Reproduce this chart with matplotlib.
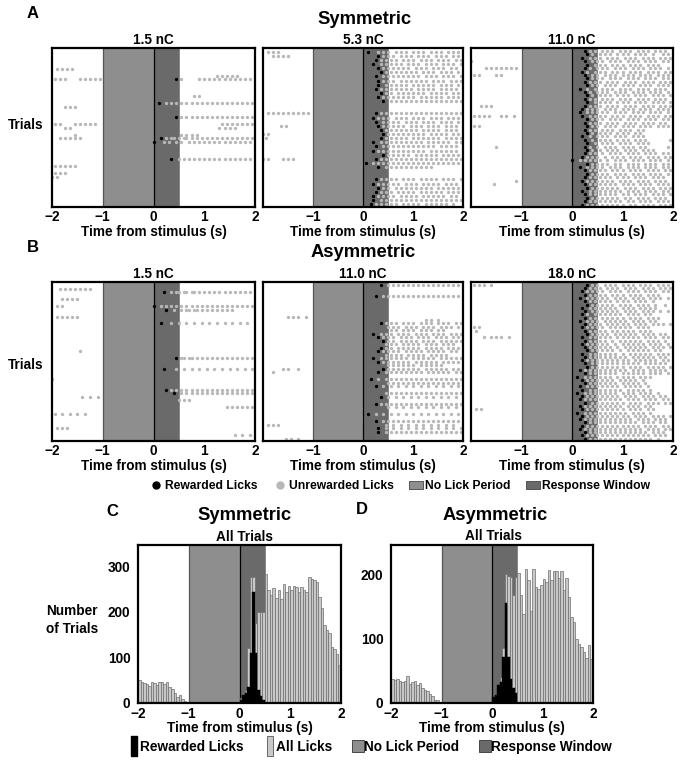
import numpy as np
import matplotlib
matplotlib.use("Agg")
import matplotlib.pyplot as plt
from matplotlib.lines import Line2D

plt.rcParams['font.family'] = ['Liberation Sans', 'DejaVu Sans']
plt.rcParams['font.weight'] = 'bold'
plt.rcParams['axes.titleweight'] = 'bold'
plt.rcParams['axes.labelweight'] = 'bold'

# lick rasters: one string per trial, lick times in 0.05 s steps from stimulus,
# "*" marks the rewarded lick
BIN = 0.05

sym_15 = [
    "", "", "", "", "",
    "-38 -36 -34 -32",
    "",
    "25 27 29 31 33",
    "-39 -37 -35 -29 -27 -25 -23 -21 9* 11 18 20 22 24 26 28 30 32 34 36 38",
    "", "", "", "",
    "16 18",
    "",
    "2* 5 7 9 11 13 15 17 19 21 23 25 27 29 31 33 35 37 39",
    "-35 -33 -31",
    "", "",
    "9* 11 13 15 17 19 21 23 25 27 29 31 33 35 37 39",
    "",
    "-39 -37 -31 -29 -27 -25 -23 27 29 31 33 35 37 39",
    "-35 -33 26 28 30 32",
    "",
    "-31 11 13 15 17",
    "-37 -35 -33 -31 -29 3* 5 7 8 10 12 13 15 17 19 21 23 25 27 29 31 33 35 37 39",
    "0* 4 6 9 11 14 16 18 20 22 24 26 28 30 32 34 36 38",
    "", "", "", "",
    "7* 10 12 14 16 18 20 22 24 26 28 30 32 34 36 38",
    "",
    "-39 -37 -35 -33 -31",
    "",
    "-39 -37 -35",
    "-40 -38",
    "", "", "", "", "", "", "", "",
]

sym_53 = [
    "-38 -36 -34 2* 6 8 10 13 15 17 20 22 24 27 29 31 34 36 38",
    "-36 -34 -32 -30 6* 8 10 12 15 17 19 22 24 26 29 31 33 36 38",
    "5* 7 9 11 13 16 18 20 23 25 27 30 32 34 37 39",
    "4* 7 9 11 13 15 18 20 22 25 27 29 32 34 36 39",
    "6* 8 10 12 14 16 18 21 23 25 28 30 32 35 37",
    "7* 9 11 13 15 17 19 21 24 26 28 31 33 35 38",
    "5* 8 10 12 14 16 18 20 22 25 27 29 32 34 36 39",
    "6* 8 10 12 15 17 19 21 23 25 28 30 32 35 37 39",
    "6* 9 11 13 15 17 20 22 24 26 28 31 33 35 38",
    "5* 7 9 11 13 15 17 19 22 24 26 28 31 33 35 37",
    "7* 9 11 14 16 18 20 22 24 27 29 31 33 36 38",
    "6* 8 10 12 14 16 18 20 23 25 27 29 31 34 36 38",
    "8* 11 13 15 17 19 21 23 25 27 29 31 33 35 37 39",
    "",
    "",
    "-38 -36 -34 -32 -30 -28 -26 -24 -22 5* 7 9 11 13 15 17 19 21 23 25 27 29 31 33 35 37 39",
    "4* 6 8 10 13 15 17 20 22 24 27 29 31 34 36 38",
    "5* 8 10 12 14 17 19 21 24 26 28 31 33 35 38",
    "-33 -31 6* 8 10 12 14 16 19 21 23 26 28 30 33 35 37",
    "7* 9 11 13 15 17 19 21 24 26 28 30 33 35 37",
    "-40 -38 8* 10 12 14 16 18 20 22 24 27 29 31 33 36 38",
    "-39 7* 9 11 13 15 17 20 22 24 26 28 30 33 35 37 39",
    "4* 7 9 11 13 15 17 19 21 23 26 28 30 32 34 37 39",
    "5* 8 10 12 14 16 18 20 22 24 26 28 31 33 35 37",
    "4* 6 8 10 12 14 16 18 20 22 24 27 29 31 33 35 37",
    "8* 10 12 14 16 18 21 23 25 27 29 32 34 36 38",
    "-40 -38 -32 -30 -28 5* 7 9 11 13 15 17 19 21 23 25 27 29 31 33 35 37 39",
    "1* 4 6 8 10 12 14 16 18 20 22 24 26 28 30 32 34 36 38",
    "6* 9 11 13 15 17 19 21 23 25 27",
    "",
    "",
    "5* 7 9 11 13 16 18 20 23 25 27 29 32 34 36 39",
    "4* 6 8 10 12 14 17 19 21 24 26 28 30 33 35 37",
    "6* 8 10 13 15 17 19 21 23 25 27 30 32 34 36 38",
    "5* 7 9 11 14 16 18 20 23 25 27 29 31 34 36 38",
    "4* 6 8 10 12 15 17 19 21 24 26 28 30 32 35 37",
    "4* 7 9 11 13 15 17 19 21 23 25 27 29 31 33 35 37 39",
    "3* 5 7 9 11 13 16 18 20 22 25 27 29 31 33 36",
]

sym_110 = [
    "5* 7 9 12 14 16 19 21 23 26 28 30 33 35 37",
    "6* 8 11 13 15 18 20 22 25 27 29 32 36 38",
    "4* 7 9 11 14 16 18 21 23 25 28 30 32 35 37 39",
    "-40 5* 8 10 12 15 17 19 22 24 26 29 31 33 36 38",
    "6* 9 11 13 16 18 20 23 25 27 30 32 34",
    "-34 -32 -30 -28 -26 -24 -22 5* 7 10 12 14 17 19 21 24 26 28 31 33 35 38",
    "4* 6 9 11 13 16 18 20 23 25 27 30 32 34 37 39",
    "-39 -37 -30 -28 5* 8 10 13 15 17 20 22 24 27 29 31 34 36 38",
    "6* 8 10 12 15 17 19 22 24 26 29 31 33 36 38",
    "5* 7 9 11 14 16 18 21 23 25 28 30 32 35 37 39",
    "6* 8 10 13 15 17 20 22 24 27 29 31 34 36 38",
    "3* 6 9 12 14 16 19 21 23 26 28 30 33 35 37",
    "5* 7 10 12 14 17 19 21 24 26 28 31 33 35 38",
    "6* 8 11 13 15 18 20 22 25 27 29 32 34 36 39",
    "5* 7 9 12 14 16 19 21 23 26 28 30 33 35 37",
    "6* 9 11 13 15 18 20 22 25 27 29 32 34 36 39",
    "-36 -34 -32 5* 7 9 11 14 16 18 21 23 25 28 30 32 35 37 39",
    "4* 6 8 10 13 15 17 20 22 24 27 29 31 34 36 38",
    "3* 6 8 10 12 14 17 19 21 24 26 28 31 33 35 38",
    "-39 -37 -35 -33 -28 -26 -23 4* 7 9 11 13 16 18 20 23 25 27 30 32 34 37 39",
    "6* 8 10 12 15 17 19 22 24 26 29 31 33 36 38",
    "5* 7 9 11 14 16 18 21 23 25 28 30 32 35 37",
    "-39 -37 6* 8 10 13 15 17 20 22 24 27 29 31 34 36 38",
    "5* 7 9 12 14 16 19 21 23 26 28",
    "6* 8 11 13 15 18 20 22 25 27",
    "4* 7 10 12 14 17 19 21 24 26 28",
    "5* 8 11 13 15 18 20 22 25 27 29 39",
    "6* 9 12 14 16 19 21 23 26 28 30",
    "-30 5* 7 10 13 15 17 20 22 24 27 29 38",
    "6* 8 11 14 16 18 21 23 25 28 30 32",
    "5* 7 9 12 15 17 19 22 24 26 29 31 33 36 38",
    "4* 6 8 10 13 16 18 20 23 25 27 30 32 34 37 39",
    "0* 3 5 7 9 11 14 17 19 21 24 26 28 31 33 35 38",
    "6* 8 10 12 14 17 19 22 24 26 29 31 33 36 38",
    "3* 6 8 10 12 15 17 19 22 24 26 29 31 33 36 38",
    "5* 7 9 11 13 16 18 20 23 25 27 30 32 34 37 39",
    "6* 8 10 12 14 17 19 21 24 26 28 31 33 35 38",
    "5* 7 9 11 13 15 18 20 22 25 27 29 32 34 36",
    "-22 4* 6 8 10 12 14 16 19 21 23 26 28 30 33 35 37",
    "-31 5* 7 9 11 13 15 17 20 22 24 27 29 31 34 36 38",
    "6* 8 10 12 14 16 18 21 23 25 28 30 32 35 37 39",
    "4* 7 9 11 13 15 17 19 22 24 26 29 31 33 36 38",
    "5* 7 9 11 13 15 17 20 22 25 27 29 32 34 36 39",
    "6* 8 10 12 14 16 18 21 23 26 28 30 33 35 37",
    "5* 7 9 11 13 15 17 19 22 24 27 29 31 34 36 38",
    "4* 6 8 10 12 14 16 18 20 23 25 28 30 32 35 37 39",
]

asym_15 = [
    "",
    "-37 -35 -33 -31 -29 -27 -25",
    "4* 7 9 10 12 13 15 16 18 20 22 24 26 28 30 32 34 36 38",
    "",
    "-36 -34 -32 -30",
    "",
    "-38 -36 0* 3 5 7 9 11 13 15 17 19 21 23 25 27 29 31 33 35 37 39",
    "5* 8 11 13 14 16 17 19 21 23 25 27 29 31",
    "",
    "-38 -36 -34 -32 -30",
    "",
    "3* 7 10 13 16 19 22 25 28 31 34 37",
    "", "", "", "", "", "", "",
    "-29",
    "",
    "9* 11 12 14 15 17 19 21 23 25 27 29 31 33 35 37 39",
    "", "",
    "4* 9 12 15 18 21 24 27 30 33 36 39",
    "", "",
    "-40",
    "", "",
    "5* 7 9 11 13 15 17 19 21 23 25 27 29 31 33 35 37 39",
    "8* 11 13 15 17 19 21 23 25 27 29 31 33 35 37 39",
    "-28 -25 -22",
    "10 12 14",
    "",
    "29 31 33 35 37 39",
    "",
    "-39 -36 -33 -30 -27",
    "", "", "",
    "-38 -36 -34",
    "",
    "32 35 38",
    "",
]

asym_110 = [
    "7* 10 12 14 16 18 20 22 24 26 28 30 32 34 36 38",
    "", "",
    "5* 8 10 12 14 16 18 20 22 24 26 28 30 32 34 36 38",
    "", "", "", "", "",
    "-30 -28 -26 -23",
    "25 27 30",
    "7* 9 11 13 16 18 20 23 25 27 30 32 34 37 39",
    "10 12 14 17 19 21 24 26 28 31 33 35 38",
    "11 13 16 18 20 23 25 27 30 32",
    "4* 7 9 11 14 16 18 21 23 25 28 30 32 35 37 39",
    "6* 8 10 12 15 17 19 22 24 26 29 31 33 36 38",
    "8* 10 12 15 17 19 21 24 26 28 31 33 35 37 39",
    "9 11 13 16 18 20 22 25 27 29 32 34 36",
    "7* 9 11 14 16 18 20 22 25 27 29 31 34 36 38",
    "6* 8 10 12 14 17 19 21 23 26 28 30 32 35 37",
    "9 11 13 15 18 20 22 24 27 29 31 33",
    "4* 7 9 11 13 15 17 20 22 24 26 28 31 33 35 37 39",
    "6* 8 10 12 14 16 18 21 23 25 27 29 32 34 36 38",
    "10 12 14 16 18 20 23 25 27 29 31",
    "-32 -30 -26 8* 10 12 14 16 18 20 22 25 27 29 31 33 36 38",
    "-36 6* 9 11 13 15 17 19 21 23 26 28 30 32 34 37 39",
    "",
    "3* 6 9 11 13 15 17 19 21 23 25 27 29 31 33 35 37 39",
    "10 12 14 16 18 20 22 24 26 28 30 32 34 36 38",
    "5* 8 11 14 17 20 23 26 29 32 35 38",
    "",
    "9 11 13 15 17 19 21 23 25 27 29 31 33 35 37 39",
    "7* 10 13 16 19 22 25 28 31 34 37",
    "",
    "5* 7 9 11 13 15 17 19 21 23 25 27 29 31 33 35 37 39",
    "10 13 16 19 22 25 28 31 34 37",
    "",
    "2* 5 8 11 14 17 20 23 26 29 32 35 38",
    "",
    "5* 8 10 12 14 16 18 20 22 24 26 28 30 32 34 36 38",
    "-38 -36 -34 9 12 15 18 21 24 27 30 33 36",
    "6* 9 12 15 18 21 24 27 30 33 36 39",
    "6* 9 11 13 15 17 19 21 23 25 27 29 31 33 35 37 39",
    "",
    "-31 -29 -26",
]

asym_180 = [
    "-39 -37 -35 -32 6* 8 10 13 15 17 20 22 24 27 29 31 34 36 38",
    "5* 7 9 11 14 16 18 21 23 25 28 30 32 35 37 39",
    "4* 6 8 10 12 15 17 19 22 24 26 29 31 33 36 38",
    "5* 7 9 11 13 16 18 20 23 25 27 30 32 34",
    "3* 6 8 10 12 14 17 19 21 24 26 28 31 33 35 38",
    "5* 7 9 11 13 15 18 20 22 25 27 29 32",
    "6* 8 10 12 14 16 19 21 23 26 28 30 33 37",
    "4* 7 9 11 13 15 17 20 22 24 27 29 31 33",
    "5* 8 10 12 14 16 18 21 23 25 28 30 32 35 38",
    "4* 6 9 11 13 15 17 19 22 24 26 29 31",
    "5* 7 9 12 14 16 18 20 23 25 27 30 32 34",
    "3* 6 8 10 13 15 17 19 21 24 26 28 31 33",
    "5* 7 9 11 14 16 18 20 22 25 27 29 32 34 36 39",
    "-39 -37 4* 6 8 10 12 15 17 19 21 23 26 28 30",
    "-38 5* 7 9 11 13 16 18 20 22 24 27 29 31",
    "6* 8 10 12 14 17 19 21 23 25 28 30 32 35 37",
    "-35 -32 -30 -28 -25 4* 7 9 11 13 15 18 20 22 24 26 29 31 33 36 38",
    "5* 7 9 11 13 16 19 21 23 25 27 30 32 34 37",
    "4* 6 8 10 12 14 17 20 22 24 26 28 31 33 35 38",
    "5* 7 9 11 13 15 18 21 23 25 27 29 32 34 36 39",
    "6* 8 10 12 14 16 19 22 24 26 28 30 33 35",
    "4* 7 9 11 13 15 17 20 23 25 27 29 31 34 36 38",
    "5* 7 9 11 13 15 17 19 21 24 26 28 30 32 35 37",
    "4* 6 8 10 12 14 16 18 20 22 25 27 29 31 33 36 38",
    "5* 8 10 12 14 16 18 20 22 24 26 29 31 33 35 37",
    "6* 8 10 12 14 16 18 20 23 25 27 30 32 34 36 39",
    "3* 5 7 9 11 13 15 17 19 21 24 26 28 31 33 35 37",
    "5* 7 9 11 13 15 17 20 22 24 26 28 31 33 35 38",
    "2* 5 7 9 11 13 15 18 20 22 24 27 29 31",
    "4* 6 8 10 12 14 16 19 21 23 25 28",
    "5* 7 9 11 13 15 17 20 22 24 26 29",
    "3* 6 8 10 12 14 16 18 21 23 25 27 30",
    "4* 7 9 11 13 15 17 19 22 24 26 28 31",
    "2* 5 7 9 11 13 15 17 20 22 24 27 29 31 34",
    "4* 6 8 10 12 14 16 18 21 23 25 28 30 32 35 37",
    "3* 5 7 9 11 13 15 17 19 22 24 26 29 31 33 36 38",
    "5* 8 10 12 14 16 18 20 23 25 27 30 32 34 37 39",
    "3* 5 7 9 11 13 15 17 19 22 24 26 29 31",
    "-38 -36 4* 6 8 10 12 14 16 18 20 23 25 27 30 32",
    "2* 5 7 9 11 13 15 17 19 21 24 26 28 31",
    "4* 6 8 10 12 14 16 18 20 22 25 27 29 32 34 36 39",
    "3* 5 7 9 11 13 15 17 19 21 23 26 28 30 33 35 37",
    "5* 7 9 11 13 15 17 19 21 23 25 28 30 32 35 37",
    "4* 6 8 10 12 14 16 18 20 22 24 26 29 31 33 36 38",
    "3* 5 7 9 11 13 15 17 19 21 23 25 27 30 32 34 37 39",
    "5* 7 9 11 13 15 17 19 21 23 25 27 29 32 34 36",
    "4* 6 8 10 12 14 16 18 20 22 24 26 28 30 33 35 37",
    "5* 7 9 11 13 15 17 19 21 23 25 27 29 31 34",
]

# histograms (0.05 s bins): -2..-1 s, 0..2 s (all licks), 0..0.5 s (rewarded)
sym_pre = [51, 46, 43, 41, 37, 45, 43, 39, 47, 47, 41, 46, 36, 30, 22, 14, 17, 8, 4, 0]
sym_post = [10, 20, 28, 120, 277, 277, 175, 200, 200, 200,
            282, 248, 237, 251, 229, 248, 227, 260, 242, 256,
            248, 256, 255, 244, 253, 248, 244, 277, 272, 270,
            266, 232, 209, 170, 160, 153, 122, 118, 108, 83]
sym_rew = [7, 18, 22, 36, 109, 244, 109, 29, 16, 7]

asym_pre = [37, 36, 38, 34, 32, 35, 42, 30, 33, 35, 28, 31, 24, 21, 19, 14, 11, 5, 4, 0]
asym_post = [10, 13, 28, 40, 85, 201, 197, 196, 168, 196,
             203, 168, 139, 208, 192, 144, 208, 181, 177, 183,
             193, 189, 207, 191, 206, 206, 195, 205, 176, 195,
             165, 134, 126, 100, 92, 87, 80, 70, 90, 68]
asym_rew = [10, 13, 28, 32, 72, 155, 72, 38, 23, 15]

NOLICK = '#8e8e8e'
WINDOW = '#6a6a6a'
DOT = '#b8b8b8'
LIGHT = '#c8c8c8'
EDGE = '#6e6e6e'
FS = 9.8

W, H = 683, 762
fig = plt.figure(figsize=(W / 100, H / 100), dpi=100)


def px_axes(x0, y0, x1, y1):
    return fig.add_axes([x0 / W, 1 - y1 / H, (x1 - x0) / W, (y1 - y0) / H])


def ftext(x, y, s, size, **kw):
    fig.text(x / W, 1 - y / H, s, ha='center', va='center', fontsize=size,
             fontweight='bold', **kw)


def shade(ax):
    ax.axvspan(-1, 0, facecolor=NOLICK, edgecolor='none', zorder=0)
    ax.axvspan(0, 0.5, facecolor=WINDOW, edgecolor='none', zorder=0)
    ax.axvline(-1, color='#555555', lw=0.9, zorder=1)
    ax.axvline(0, color='black', lw=0.9, zorder=1)
    ax.axvline(0.5, color='#555555', lw=0.5, zorder=1)


def style(ax, first, xpad=2, lpad=1):
    for s in ax.spines.values():
        s.set_linewidth(1.6)
    ax.set_xlim(-2, 2)
    ax.set_xticks([-2, -1, 0, 1, 2])
    labs = ['\u22122', '\u22121', '0', '1', '2']
    if not first:
        labs[0] = ''
    ax.set_xticklabels(labs)
    ax.tick_params(length=0, pad=2, labelsize=FS)
    ax.tick_params(axis='x', pad=xpad)
    ax.set_xlabel('Time from stimulus (s)', fontsize=FS, labelpad=lpad)


def raster(ax, rows, title, first):
    shade(ax)
    gx, gy, bx, by = [], [], [], []
    for i, row in enumerate(rows):
        for tok in row.split():
            t = int(tok.rstrip('*')) * BIN
            if tok.endswith('*'):
                bx.append(t)
                by.append(i)
            else:
                gx.append(t)
                gy.append(i)
    ax.plot(gx, gy, 'o', ms=2.4, mew=0, color=DOT, zorder=2)
    ax.plot(bx, by, 'o', ms=2.4, mew=0, color='black', zorder=3)
    ax.set_ylim(len(rows) - 0.3, -0.9)
    ax.set_yticks([])
    ax.set_title(title, fontsize=FS, pad=3)
    style(ax, first)


def hist(ax, pre, post, rew, ymax, yticks):
    shade(ax)
    pre_x = -2 + BIN * np.arange(len(pre))
    post_x = BIN * np.arange(len(post))
    ax.bar(pre_x, pre, width=BIN, align='edge', color=LIGHT, edgecolor=EDGE,
           lw=0.5, zorder=2)
    ax.bar(post_x, post, width=BIN, align='edge', color=LIGHT, edgecolor=EDGE,
           lw=0.5, zorder=2)
    ax.bar(post_x[:len(rew)], rew, width=BIN, align='edge', color='black',
           edgecolor='black', lw=0.3, zorder=3)
    ax.set_ylim(0, ymax)
    ax.set_yticks(yticks)
    style(ax, True, xpad=3.2, lpad=0)
    ax.tick_params(axis='y', pad=5.5)


cols = [(52, 255), (263, 463), (471, 673)]
for (x0, x1), rows, ttl, k in zip(cols, [sym_15, sym_53, sym_110],
                                  ['1.5 nC', '5.3 nC', '11.0 nC'], range(3)):
    raster(px_axes(x0, 48, x1, 207), rows, ttl, k == 0)
for (x0, x1), rows, ttl, k in zip(cols, [asym_15, asym_110, asym_180],
                                  ['1.5 nC', '11.0 nC', '18.0 nC'], range(3)):
    raster(px_axes(x0, 282, x1, 441), rows, ttl, k == 0)

ftext(33, 13, 'A', 12)
ftext(365, 20, 'Symmetric', 13.2)
ftext(26, 125, 'Trials', FS)
ftext(33, 248, 'B', 12)
ftext(363, 252, 'Asymmetric', 13.2)
ftext(26, 365, 'Trials', FS)

# raster legend
WIDE = [(-1.6, -1), (1.6, -1), (1.6, 1), (-1.6, 1), (-1.6, -1)]
h1 = [Line2D([], [], ls='', marker='o', ms=5, mfc='black', mec='black'),
      Line2D([], [], ls='', marker='o', ms=5, mfc=DOT, mec=DOT),
      Line2D([], [], ls='', marker=WIDE, ms=10, mfc=NOLICK, mec='#444444', mew=0.6),
      Line2D([], [], ls='', marker=WIDE, ms=10, mfc=WINDOW, mec='#444444', mew=0.6)]
fig.legend(h1, ['Rewarded Licks', 'Unrewarded Licks', 'No Lick Period', 'Response Window'],
           loc='center', bbox_to_anchor=(400 / W, 1 - 486 / H), ncol=4, frameon=False,
           fontsize=8.7, handlelength=1.0, handletextpad=0.2, columnspacing=1.4,
           borderpad=0, borderaxespad=0)

axc = px_axes(138, 545, 341, 703)
hist(axc, sym_pre, sym_post, sym_rew, 346, [0, 100, 200, 300])
axd = px_axes(391, 545, 593, 703)
hist(axd, asym_pre, asym_post, asym_rew, 246, [0, 100, 200])

ftext(112, 512, 'C', 12)
ftext(245, 516, 'Symmetric', 13.2)
ftext(244, 537, 'All Trials', FS)
ftext(362, 510, 'D', 12)
ftext(495, 516, 'Asymmetric', 13.2)
ftext(493, 536, 'All Trials', FS)
ftext(72, 620, 'Number\nof Trials', FS, linespacing=1.3)

# histogram legend
TALL = [(-0.3, -1), (0.3, -1), (0.3, 1), (-0.3, 1), (-0.3, -1)]
h2 = [Line2D([], [], ls='', marker=TALL, ms=14, mfc='black', mec='black'),
      Line2D([], [], ls='', marker=TALL, ms=14, mfc=LIGHT, mec='#555555', mew=0.6),
      Line2D([], [], ls='', marker='s', ms=9, mfc=NOLICK, mec='#333333', mew=0.6),
      Line2D([], [], ls='', marker='s', ms=9, mfc=WINDOW, mec='#333333', mew=0.6)]
fig.legend(h2, ['Rewarded Licks', 'All Licks', 'No Lick Period', 'Response Window'],
           loc='center', bbox_to_anchor=(371 / W, 1 - 747 / H), ncol=4, frameon=False,
           fontsize=FS, handlelength=0.6, handletextpad=0.15, columnspacing=1.6,
           borderpad=0, borderaxespad=0)

fig.savefig('out.png', dpi=100)
